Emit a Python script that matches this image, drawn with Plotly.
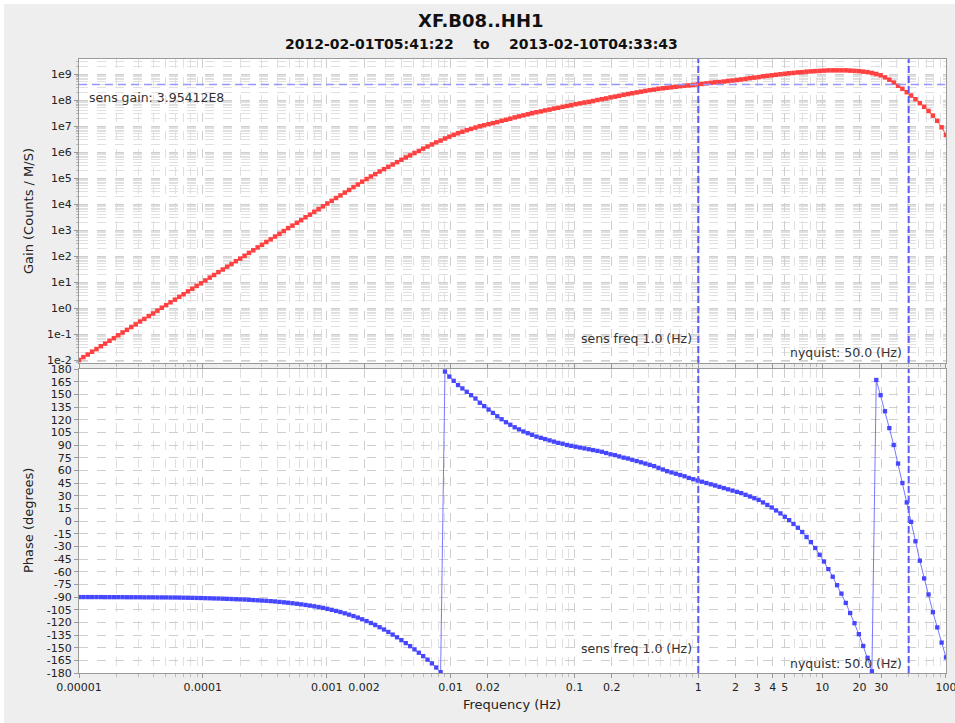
import numpy as np
import plotly.graph_objects as go

# ---------------- data ----------------
title_text = "XF.B08..HH1"
subtitle_text = "2012-02-01T05:41:22\u00a0\u00a0\u00a0\u00a0to\u00a0\u00a0\u00a0\u00a02013-02-10T04:33:43"
sens_gain = 3.95412e8
sens_freq = 1.0
nyquist = 50.0

# frequency sampling grid of the response (200 log-spaced points, 1e-5 .. 100 Hz)
f_min_exp, f_max_exp, n_points = -5, 2, 200
freq = np.logspace(f_min_exp, f_max_exp, n_points)

# log10 of gain (Counts / M/S)
gain_log10 = [
    -2.00, -1.89, -1.79, -1.68, -1.58, -1.47, -1.37, -1.26, -1.16, -1.05,
    -0.94, -0.84, -0.73, -0.63, -0.52, -0.42, -0.31, -0.21, -0.10, 0.01,
    0.11, 0.22, 0.32, 0.43, 0.53, 0.64, 0.74, 0.85, 0.95, 1.06,
    1.17, 1.27, 1.38, 1.48, 1.59, 1.69, 1.80, 1.90, 2.01, 2.12,
    2.22, 2.33, 2.43, 2.54, 2.64, 2.75, 2.85, 2.96, 3.07, 3.17,
    3.28, 3.38, 3.49, 3.59, 3.70, 3.80, 3.91, 4.02, 4.12, 4.23,
    4.33, 4.44, 4.54, 4.65, 4.75, 4.86, 4.96, 5.06, 5.15, 5.25,
    5.34, 5.43, 5.52, 5.61, 5.70, 5.79, 5.87, 5.96, 6.04, 6.13,
    6.21, 6.29, 6.37, 6.44, 6.52, 6.59, 6.66, 6.72, 6.78, 6.84,
    6.89, 6.94, 6.99, 7.03, 7.07, 7.11, 7.15, 7.20, 7.24, 7.28,
    7.33, 7.37, 7.41, 7.45, 7.49, 7.53, 7.56, 7.60, 7.63, 7.67,
    7.70, 7.74, 7.77, 7.80, 7.84, 7.87, 7.90, 7.93, 7.96, 8.00,
    8.03, 8.06, 8.10, 8.13, 8.16, 8.20, 8.23, 8.26, 8.29, 8.32,
    8.35, 8.38, 8.40, 8.43, 8.45, 8.47, 8.49, 8.51, 8.53, 8.55,
    8.56, 8.58, 8.60, 8.62, 8.64, 8.66, 8.68, 8.69, 8.71, 8.73,
    8.75, 8.77, 8.79, 8.81, 8.84, 8.86, 8.88, 8.91, 8.93, 8.95,
    8.97, 8.99, 9.01, 9.03, 9.04, 9.06, 9.07, 9.09, 9.10, 9.11,
    9.12, 9.13, 9.14, 9.14, 9.14, 9.14, 9.14, 9.13, 9.12, 9.11,
    9.09, 9.07, 9.04, 9.00, 8.95, 8.87, 8.78, 8.67, 8.55, 8.43,
    8.30, 8.17, 8.03, 7.88, 7.74, 7.58, 7.40, 7.20, 6.95, 6.65,
]

# phase (degrees)
phase_deg = [
    -90.1, -90.1, -90.1, -90.1, -90.1, -90.1, -90.2, -90.2, -90.2, -90.2,
    -90.2, -90.3, -90.3, -90.3, -90.3, -90.4, -90.4, -90.4, -90.5, -90.5,
    -90.5, -90.6, -90.6, -90.7, -90.8, -90.9, -91.0, -91.1, -91.2, -91.4,
    -91.5, -91.7, -91.8, -92.0, -92.2, -92.4, -92.6, -92.8, -93.0, -93.3,
    -93.6, -93.9, -94.2, -94.5, -94.9, -95.3, -95.8, -96.3, -96.8, -97.4,
    -98.0, -98.7, -99.4, -100.2, -101.0, -101.9, -102.9, -104.0, -105.2, -106.5,
    -107.8, -109.3, -110.9, -112.6, -114.4, -116.4, -118.5, -120.8, -123.2, -125.8,
    -128.5, -131.4, -134.5, -137.7, -141.1, -144.6, -148.2, -152.0, -156.0, -160.0,
    -164.2, -168.6, -173.5, -179.0,
    177, 171, 166, 161, 157, 153, 149, 145, 140, 136,
    132, 128, 124, 120.5, 117, 114, 111, 108.5, 106, 104,
    102, 100, 98.5, 97, 95.5, 94, 92.5, 91.5, 90, 89,
    88, 87, 86, 85, 84, 83, 82, 80.5, 79, 78,
    76.5, 75, 74, 72.5, 71, 69.5, 68, 66.5, 65, 63,
    61, 59, 57.5, 56, 54.5, 53, 51, 49.5,
    48, 46.5, 45, 43.5, 42, 40.5, 39, 37.5, 36, 34.5,
    33, 31, 29, 27, 25, 22, 19, 16, 12.5, 9,
    5, 1, -3.5, -8, -13, -19,
    -25, -32, -40, -48, -57, -66, -76, -86, -97, -109,
    -121, -134, -148, -162, -178,
    167, 149, 130, 110, 90, 68, 45, 22, -1, -24,
    -47, -68, -87, -108, -126, -144, -161.5,
]

x_tick_vals = [0.00001, 0.0001, 0.001, 0.002, 0.01, 0.02, 0.1, 0.2, 1, 2, 3, 4, 5, 10, 20, 30, 100]
x_tick_text = ["0.00001", "0.0001", "0.001", "0.002", "0.01", "0.02", "0.1", "0.2",
               "1", "2", "3", "4", "5", "10", "20", "30", "100"]
gain_tick_exps = list(range(-2, 10))
phase_tick_vals = list(range(-180, 181, 15))

# ---------------- figure ----------------
gain = [10 ** v for v in gain_log10]

FONT = "DejaVu Sans"
GRID_MAJ = "#cfcfcf"
GRID_MIN = "#e0e0e0"
FRAME = "#9a9a9a"

fig = go.Figure()
fig.add_trace(go.Scatter(
    x=freq, y=gain, xaxis="x", yaxis="y", mode="lines+markers",
    line=dict(color="rgb(255,90,90)", width=1),
    marker=dict(symbol="square", size=4.5, color="rgb(255,64,64)", line=dict(width=0)),
    showlegend=False, hoverinfo="x+y"))
fig.add_trace(go.Scatter(
    x=freq, y=phase_deg, xaxis="x2", yaxis="y2", mode="lines+markers",
    line=dict(color="rgb(120,120,255)", width=1),
    marker=dict(symbol="square", size=4.3, color="rgb(70,70,255)", line=dict(width=0)),
    showlegend=False, hoverinfo="x+y"))

x_minor = [k * 10.0 ** n for n in range(f_min_exp, f_max_exp) for k in range(2, 10)]
y_minor = [k * 10.0 ** n for n in range(-3, 10) for k in range(2, 10)]

common_x = dict(
    type="log", range=[f_min_exp - 0.0002, f_max_exp + 0.0002],
    tickmode="array", tickvals=x_tick_vals, ticktext=x_tick_text,
    ticklabeloverflow="allow", automargin=False,
    showgrid=True, gridcolor=GRID_MAJ, griddash="dash", gridwidth=1,
    showline=True, linecolor=FRAME, linewidth=1, mirror=True,
    ticks="outside", ticklen=4, tickcolor="#999999",
    minor=dict(tickmode="array", tickvals=x_minor, showgrid=True, gridcolor=GRID_MIN,
               griddash="dash", ticks="outside", ticklen=3, tickcolor="#bbbbbb"),
    zeroline=False, tickfont=dict(family=FONT, size=11, color="#222222"),
)

h = 614.0
top_lo = (673 - 363) / h
bot_hi = (673 - 369) / h

fig.update_layout(
    width=955, height=723,
    margin=dict(l=79, r=9, t=59, b=50, autoexpand=False),
    paper_bgcolor="#eeeeee", plot_bgcolor="white",
    font=dict(family=FONT, size=11, color="#222222"),
    xaxis=dict(common_x, domain=[0, 1], anchor="y", showticklabels=False, matches="x2"),
    xaxis2=dict(common_x, domain=[0, 1], anchor="y2"),
    yaxis=dict(
        type="log", domain=[top_lo, 1], range=[-2.115, 9.577], anchor="x", automargin=False,
        tickmode="array", tickvals=[10.0 ** e for e in gain_tick_exps],
        ticktext=["1e%d" % e for e in gain_tick_exps],
        showgrid=True, gridcolor=GRID_MAJ, griddash="dash",
        showline=True, linecolor=FRAME, linewidth=1, mirror=True,
        ticks="outside", ticklen=4, tickcolor="#999999",
        minor=dict(tickmode="array", tickvals=y_minor, showgrid=True, gridcolor=GRID_MIN,
                   griddash="dash", ticks="outside", ticklen=2, tickcolor="#bbbbbb"),
        zeroline=False, tickfont=dict(family=FONT, size=11, color="#222222"),
    ),
    yaxis2=dict(
        domain=[0, bot_hi], range=[-180, 180], anchor="x2", automargin=False,
        tickmode="array", tickvals=phase_tick_vals,
        ticktext=[str(v) for v in phase_tick_vals],
        showgrid=True, gridcolor=GRID_MAJ, griddash="dash",
        showline=True, linecolor=FRAME, linewidth=1, mirror=True,
        ticks="outside", ticklen=4, tickcolor="#999999",
        zeroline=False, tickfont=dict(family=FONT, size=11, color="#222222"),
    ),
)

# reference lines
vline_style = dict(color="rgb(90,90,255)", width=2, dash="7px,3px")
for f in (sens_freq, nyquist):
    fig.add_shape(type="line", xref="x", yref="y domain", x0=f, x1=f, y0=0, y1=1, line=vline_style)
    fig.add_shape(type="line", xref="x2", yref="y2 domain", x0=f, x1=f, y0=0, y1=1, line=vline_style)
fig.add_shape(type="line", xref="x domain", yref="y", x0=0, x1=1, y0=sens_gain, y1=sens_gain,
              line=dict(color="rgb(150,150,255)", width=1.3, dash="8px,5px"))

# white border strips of the screenshot
fig.add_shape(type="rect", xref="paper", yref="paper", x0=-79 / 867, x1=(955 - 79) / 867,
              y0=(673 - 4) / h, y1=673 / h + 0.01, fillcolor="white", line=dict(width=0), layer="below")
fig.add_shape(type="rect", xref="paper", yref="paper", x0=-79 / 867, x1=-75 / 867,
              y0=-50 / h, y1=673 / h + 0.01, fillcolor="white", line=dict(width=0), layer="below")


def px_x(px):
    return (px - 79) / 867.0


def px_y(py):
    return (673 - py) / h


txt = dict(family=FONT, size=12.5, color="#333333")
annos = [
    dict(text="<b>%s</b>" % title_text, x=px_x(480), y=px_y(21), xanchor="center", yanchor="middle",
         font=dict(family=FONT, size=18, color="#111111")),
    dict(text="<b>%s</b>" % subtitle_text, x=px_x(481), y=px_y(44), xanchor="center", yanchor="middle",
         font=dict(family=FONT, size=14, color="#111111")),
    dict(text="Gain (Counts / M/S)", x=px_x(28), y=px_y(211), textangle=-90,
         xanchor="center", yanchor="middle", font=dict(family=FONT, size=13, color="#222222")),
    dict(text="Phase (degrees)", x=px_x(28), y=px_y(521), textangle=-90,
         xanchor="center", yanchor="middle", font=dict(family=FONT, size=13, color="#222222")),
    dict(text="Frequency (Hz)", x=px_x(512), y=px_y(704), xanchor="center", yanchor="middle",
         font=dict(family=FONT, size=13, color="#222222")),
    dict(text="sens gain: 3.95412E8", x=px_x(87), y=px_y(97), xanchor="left", yanchor="middle", font=txt),
    dict(text="sens freq 1.0 (Hz)", x=px_x(694), y=px_y(338), xanchor="right", yanchor="middle", font=txt),
    dict(text="nyquist: 50.0 (Hz)", x=px_x(904), y=px_y(352), xanchor="right", yanchor="middle", font=txt),
    dict(text="sens freq 1.0 (Hz)", x=px_x(694), y=px_y(648), xanchor="right", yanchor="middle", font=txt),
    dict(text="nyquist: 50.0 (Hz)", x=px_x(904), y=px_y(663), xanchor="right", yanchor="middle", font=txt),
]
for a in annos:
    fig.add_annotation(xref="paper", yref="paper", showarrow=False, **a)

fig.write_html("out.html")
